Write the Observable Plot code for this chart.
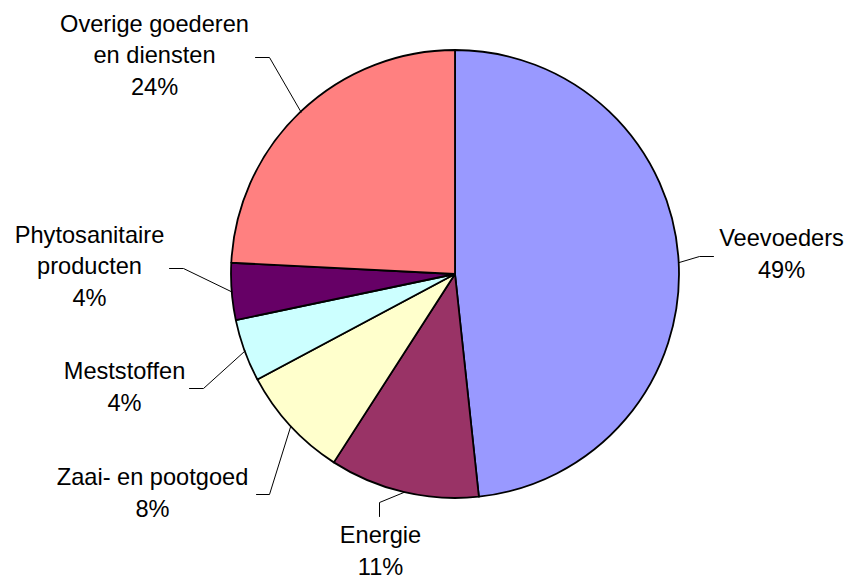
<!DOCTYPE html>
<html>
<head>
<meta charset="utf-8">
<script src="https://cdn.jsdelivr.net/npm/d3@7"></script>
<script src="https://cdn.jsdelivr.net/npm/@observablehq/plot@0.6"></script>
<style>
  html, body { margin: 0; padding: 0; background: #fff; }
  #chart svg { display: block; }
</style>
</head>
<body>
<div id="chart"></div>
<script>
// ---- data ----
const categories = ["Veevoeders", "Energie", "Zaai- en pootgoed", "Meststoffen", "Phytosanitaire\nproducten", "Overige goederen\nen diensten"];
const shares = [48.3, 10.8, 8.1, 4.5, 4.1, 24.2];          // slice sizes
const percentLabels = ["49%", "11%", "8%", "4%", "4%", "24%"]; // as printed on the chart
const colors = ["#9999FF", "#993366", "#FFFFCC", "#CCFFFF", "#660066", "#FF8080"];

// ---- layout (units = pixels relative to pie centre, y downwards) ----
const R = 224;
const labelPos = [[326, 3], [-75, 300], [-303, 242], [-331, 136], [-366, 31], [-301, -180]];
const leaderElbow = [[244, -18], [-76, 228], [-186, 220], [-252, 114], [-272, -6], [-186, -217]];
const leaderEnd = [[258, -18], [-76, 242], [-199, 220], [-266, 114], [-286, -6], [-200, -217]];

const data = categories.map((c, i) => ({name: c, value: shares[i], pct: percentLabels[i], color: colors[i]}));
const arcs = d3.pie().sort(null).value(d => d.value)(data);

const leaders = [];
arcs.forEach((a, i) => {
  const m = (a.startAngle + a.endAngle) / 2;
  leaders.push({k: i, x: R * Math.sin(m), y: -R * Math.cos(m)});
  leaders.push({k: i, x: leaderElbow[i][0], y: leaderElbow[i][1]});
  leaders.push({k: i, x: leaderEnd[i][0], y: leaderEnd[i][1]});
});

const labels = data.map((d, i) => ({x: labelPos[i][0], y: labelPos[i][1], text: d.name + "\n" + d.pct}));

const fontSize = 23.6;

const plot = Plot.plot({
  width: 846,
  height: 581,
  margin: 0,
  style: {background: "#fff", fontFamily: "'Liberation Sans', Arial, sans-serif"},
  x: {domain: [-R, R], range: [231, 679], axis: null},
  y: {domain: [-R, R], range: [50, 498], axis: null},
  marks: [
    (index, scales) => {
      const cx = scales.x(0), cy = scales.y(0);
      const r = scales.x(R) - scales.x(0);
      const g = d3.create("svg:g").attr("transform", `translate(${cx},${cy})`);
      const arc = d3.arc().innerRadius(0).outerRadius(r);
      g.selectAll("path")
        .data(arcs)
        .join("path")
        .attr("d", arc)
        .attr("fill", d => d.data.color)
        .attr("stroke", "#000")
        .attr("stroke-width", 1.8)
        .attr("stroke-linejoin", "round");
      return g.node();
    },
    Plot.line(leaders, {x: "x", y: "y", z: "k", stroke: "#000", strokeWidth: 1}),
    Plot.text(labels, {
      x: "x", y: "y", text: "text",
      lineAnchor: "bottom",
      lineHeight: 31.3 / fontSize,
      fontSize: fontSize,
      fill: "#000",
      textAnchor: "middle"
    })
  ]
});

document.getElementById("chart").appendChild(plot);
</script>
</body>
</html>
